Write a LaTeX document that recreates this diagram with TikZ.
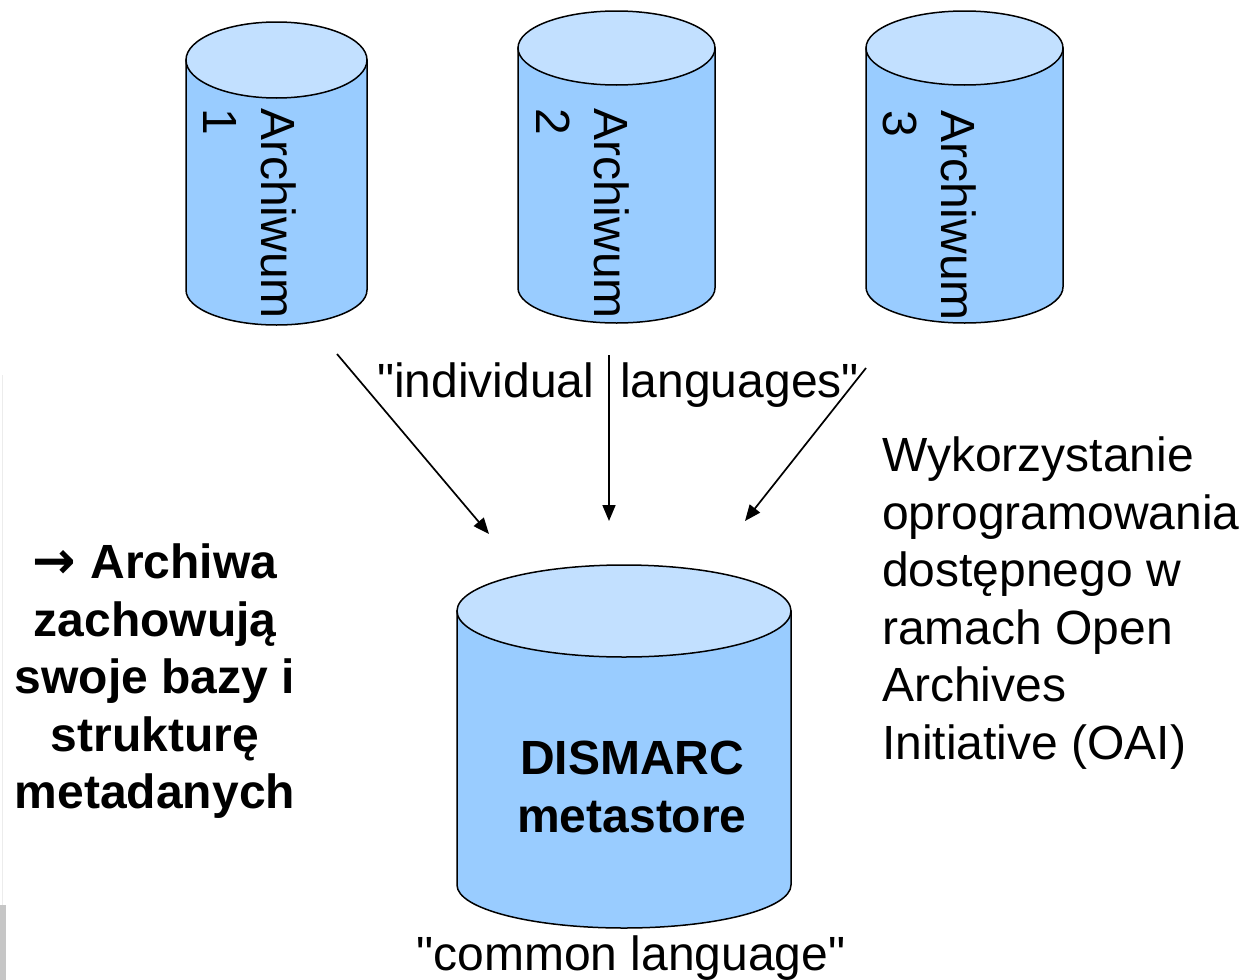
\documentclass[tikz,border=0pt]{standalone}
\usepackage{fontspec}
\setmainfont{Liberation Sans}[Ligatures=TeXOff]
\newfontfamily\symfont{DejaVu Sans}
\usetikzlibrary{arrows.meta}
\definecolor{cylside}{HTML}{99CCFF}
\definecolor{cyltop}{HTML}{C2E0FF}
\newcommand\bigtxt{\fontsize{48}{57.5}\selectfont}
\newcommand\drawcyl[6]{%
  \pgfmathsetmacro\cylrx{(#2-#1)/2}%
  \pgfmathsetmacro\cylcx{(#1+#2)/2}%
  \filldraw[cylline,fill=cylside] (#1,-#3) -- (#1,-#5) arc[start angle=180,end angle=360,x radius=\cylrx pt,y radius=#6pt] -- (#2,-#3) -- cycle;
  \filldraw[cylline,fill=cyltop] (\cylcx,-#3) ellipse[x radius=\cylrx pt,y radius=#4pt];
}
\begin{document}
\begin{tikzpicture}[x=1pt,y=1pt,
  cylline/.style={draw=black,line width=1.5pt},
  cyltext/.style={rotate=-90,anchor=north west,align=left,inner sep=0pt,font=\bigtxt},
  plaintext/.style={inner sep=0pt,font=\bigtxt},
  boldtext/.style={inner sep=0pt,font=\bigtxt\bfseries,align=center},
  flow/.style={draw=black,line width=1.7pt,-{Triangle[length=16pt,width=13pt]}}]
\useasboundingbox[fill=white] (0,0) rectangle (1248,-980);
% faint slide remnants at the left edge
\fill[gray!45] (0,-905) rectangle (6,-980);
\draw[gray!15,line width=1pt] (2,-375) -- (2,-905);

% cylinders
\drawcyl{186}{367}{60}{38}{290}{35}
\drawcyl{518}{715}{48}{37}{288}{35}
\drawcyl{866}{1063}{48}{37}{287}{36}
\drawcyl{457}{791}{611}{46}{885}{43}

% cylinder labels
\node[cyltext] (arch1) at (296,-108) {Archiwum\\1};
\node[cyltext] (arch2) at (629,-108) {Archiwum\\2};
\node[cyltext] (arch3) at (976,-110) {Archiwum\\3};
\node[boldtext,anchor=north] (dismarc) at (632,-741) {DISMARC\\metastore};

% arrows
\coordinate (s1) at (337,-354);
\coordinate (e1) at (489,-534);
\coordinate (s2) at (609,-355);
\coordinate (e2) at (609,-521);
\coordinate (s3) at (866,-368);
\coordinate (e3) at (745,-521);
\draw[flow] (s1) -- (e1);
\draw[flow] (s2) -- (e2);
\draw[flow] (s3) -- (e3);

% texts
\node[plaintext,anchor=base west] (indiv) at (377,-397) {"individual\hspace{26pt}languages"};
\node[plaintext,anchor=base] (common) at (631,-970) {"common language"};
\node[plaintext,anchor=north west,align=left] (oai) at (882,-437) {Wykorzystanie\\oprogramowania\\dostępnego w\\ramach Open\\Archives\\Initiative (OAI)};
\node[boldtext,anchor=north] (archiwa) at (155,-544) {{\symfont\bfseries\fontsize{52}{57.5}\selectfont →}\hspace{14pt}Archiwa\\zachowują\\swoje bazy i\\strukturę\\metadanych};
\end{tikzpicture}
\end{document}
